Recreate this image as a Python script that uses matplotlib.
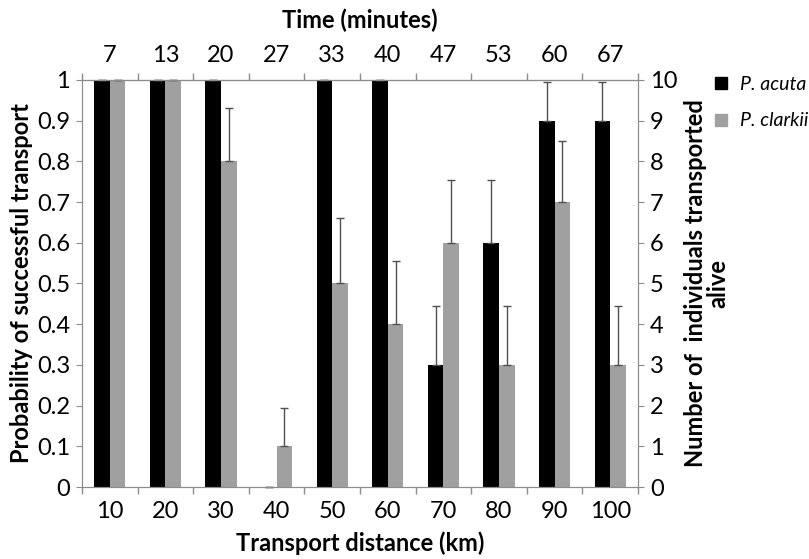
import numpy as np
import matplotlib.pyplot as plt
from matplotlib.lines import Line2D

distance = ['10', '20', '30', '40', '50', '60', '70', '80', '90', '100']
minutes = ['7', '13', '20', '27', '33', '40', '47', '53', '60', '67']
acuta = [1.0, 1.0, 1.0, 0.0, 1.0, 1.0, 0.3, 0.6, 0.9, 0.9]
acuta_err = [0, 0, 0, 0, 0, 0, 0.145, 0.155, 0.095, 0.095]
clarkii = [1.0, 1.0, 0.8, 0.1, 0.5, 0.4, 0.6, 0.3, 0.7, 0.3]
clarkii_err = [0, 0, 0.13, 0.095, 0.16, 0.155, 0.155, 0.145, 0.15, 0.145]

plt.rcParams['font.family'] = ['Lato', 'DejaVu Sans']
grey = '#a0a0a0'
axc = '#8c8c8c'
tsize = 17
lsize = 17

fig = plt.figure(figsize=(8.09, 5.59), dpi=100)
ax = fig.add_axes([0.1014, 0.1288, 0.6872, 0.7281])

x = np.arange(len(distance)) + 0.5
w = 0.28
ekw = dict(ecolor='#505050', elinewidth=1, capsize=3, capthick=1, clip_on=False)
ax.bar(x - w / 2, acuta, w, color='black',
       yerr=[np.zeros(10), acuta_err], error_kw=ekw, zorder=2)
ax.bar(x + w / 2, clarkii, w, color=grey,
       yerr=[np.zeros(10), clarkii_err], error_kw=ekw, zorder=2)

ax.set_xlim(0, 10)
ax.set_ylim(0, 1)
ax.set_yticks(np.arange(0, 1.01, 0.1))
ax.set_yticklabels(['0'] + ['%.1f' % v for v in np.arange(0.1, 0.95, 0.1)] + ['1'])
ax.set_xticks(x)
ax.set_xticklabels(distance)
ax.set_xticks(np.arange(0, 11), minor=True)
ax.tick_params(axis='x', which='major', length=0, pad=10, labelsize=tsize)
ax.tick_params(axis='x', which='minor', length=5, color=axc, width=1)
ax.tick_params(axis='y', length=4.5, color=axc, labelsize=tsize, pad=4)
for s in ax.spines.values():
    s.set_color(axc)

ax.set_xlabel('Transport distance (km)', fontsize=lsize, fontweight='bold', labelpad=7)
ax.set_ylabel('Probability of successful transport', fontsize=lsize,
              fontweight='bold')
ax.yaxis.set_label_coords(-0.088, 0.5)

top = ax.secondary_xaxis('top')
top.set_xticks(x)
top.set_xticklabels(minutes)
top.set_xticks(np.arange(0, 11), minor=True)
top.tick_params(axis='x', which='major', length=0, pad=10, labelsize=tsize)
top.tick_params(axis='x', which='minor', length=5, color=axc, width=1)
top.spines['top'].set_color(axc)
top.set_xlabel('Time (minutes)', fontsize=lsize, fontweight='bold', labelpad=12)

ax2 = ax.twinx()
ax2.set_ylim(0, 10)
ax2.set_yticks(range(0, 11))
ax2.tick_params(axis='y', length=4.5, color=axc, labelsize=tsize, pad=4)
for s in ax2.spines.values():
    s.set_color(axc)
ax2.set_ylabel('Number of  individuals transported\nalive', fontsize=lsize,
               fontweight='bold', linespacing=0.95)
ax2.yaxis.set_label_coords(1.083, 0.5)

handles = [Line2D([], [], marker='s', color='black', ls='', markersize=9),
           Line2D([], [], marker='s', color=grey, ls='', markersize=9)]
fig.legend(handles, ['P. acuta', 'P. clarkii'], loc='upper left',
           bbox_to_anchor=(0.872, 0.878), frameon=False,
           prop=dict(style='italic', size=14), handletextpad=0.6,
           labelspacing=1.0, handlelength=0.8, borderaxespad=0)

fig.savefig('out.png', dpi=100)
